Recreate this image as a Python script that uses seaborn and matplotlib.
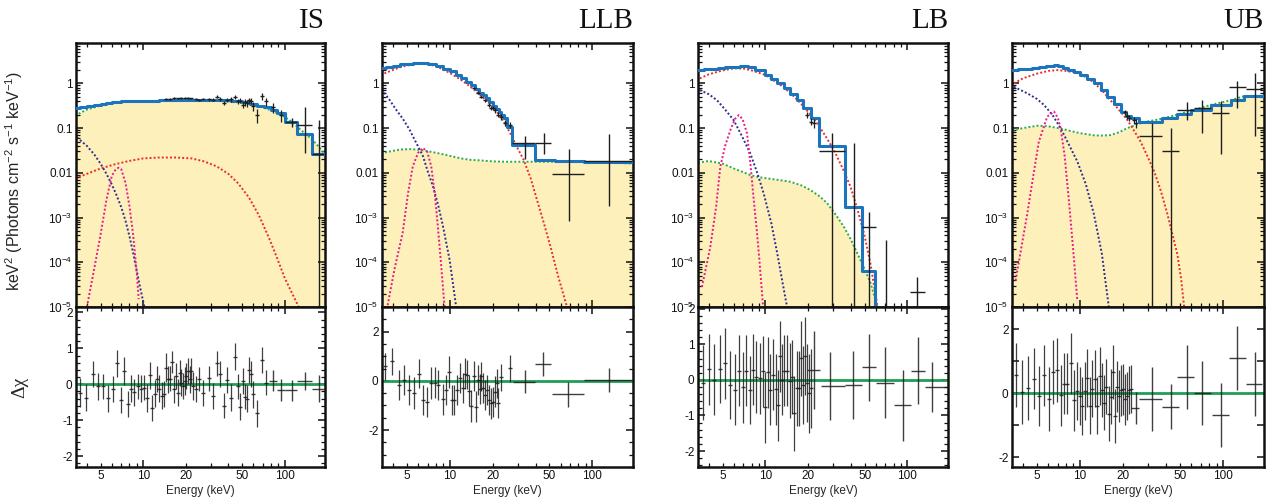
import matplotlib
matplotlib.use('Agg')
import matplotlib.pyplot as plt
import matplotlib.ticker as mticker
import numpy as np
import seaborn as sns

sns.set_theme(style='ticks')
plt.rcParams['font.family'] = ['Liberation Sans', 'DejaVu Sans']
plt.rcParams['mathtext.fontset'] = 'custom'
plt.rcParams['mathtext.rm'] = 'Liberation Sans'
plt.rcParams['mathtext.it'] = 'Liberation Sans:italic'
plt.rcParams['axes.unicode_minus'] = False

# ---------------- data ----------------
states = ['IS', 'LLB', 'LB', 'UB']

# --- IS ---
is_tot_e = [3.3, 3.6, 4.0, 4.5, 5.0, 5.5, 6.0, 7.0, 8.0, 10, 13, 17, 22, 28, 35, 42, 50, 57, 64, 72, 80, 88, 100, 123, 156, 195]
is_tot_f = [0.28, 0.29, 0.31, 0.33, 0.35, 0.37, 0.39, 0.40, 0.41, 0.41, 0.42, 0.43, 0.43, 0.42, 0.42, 0.40, 0.38, 0.35, 0.32, 0.29, 0.26, 0.22, 0.138, 0.075, 0.027, 0.027]
is_comp_e = [3.3, 3.6, 4.0, 5.0, 6.0, 7.0, 8.0, 10, 15, 20, 30, 40, 50, 60, 70, 80, 90, 100, 115, 126, 140, 156, 175, 195]
is_comp_f = [0.19, 0.22, 0.26, 0.32, 0.36, 0.38, 0.39, 0.40, 0.41, 0.41, 0.41, 0.40, 0.37, 0.33, 0.29, 0.25, 0.21, 0.18, 0.13, 0.10, 0.075, 0.056, 0.038, 0.025]
is_bb_e = [3.3, 4, 5, 6.3, 8, 10, 13, 17, 22, 27, 33, 40, 47, 56, 66, 77, 88, 100, 115, 128]
is_bb_f = [0.0075, 0.0095, 0.0125, 0.0155, 0.0185, 0.021, 0.022, 0.022, 0.021, 0.018, 0.014, 0.0095, 0.0058, 0.0028, 0.0011, 3.7e-4, 1.3e-4, 4.5e-5, 1.8e-5, 9e-6]
is_disk_e = [3.4, 4.0, 4.5, 5.0, 5.5, 6.0, 6.5, 7.0, 7.5, 8.0, 8.5, 9.0, 9.5, 10.2]
is_disk_f = [0.062, 0.040, 0.026, 0.016, 0.0095, 0.0055, 0.0031, 0.0017, 8.5e-4, 3.8e-4, 1.6e-4, 6.5e-5, 2.8e-5, 1e-5]
is_fe_e = [4.0, 4.5, 5.0, 5.5, 6.0, 6.4, 6.7, 7.0, 7.5, 8.0, 8.5, 9.0, 9.3]
is_fe_f = [1e-5, 7e-5, 4.2e-4, 0.0025, 0.0085, 0.012, 0.013, 0.012, 0.006, 0.0018, 4e-4, 6e-5, 1.5e-5]
is_dat_e = [14.4, 15.6, 16.6, 17.6, 18.6, 19.6, 20.7, 21.9, 23.7, 25.0, 26.7, 29.1, 31.0, 33.1, 34.9, 37.1,
            39.1, 41.8, 44.3, 46.5, 48.3, 50.4, 52.1, 53.8, 56.1, 57.7, 60.2, 64.3, 68.9, 73.6, 82.8, 93.7]
is_dat_f = [0.44, 0.45, 0.47, 0.46, 0.47, 0.48, 0.47, 0.46, 0.45, 0.43, 0.44, 0.44, 0.43, 0.50, 0.45, 0.37,
            0.42, 0.44, 0.49, 0.40, 0.41, 0.33, 0.38, 0.36, 0.42, 0.40, 0.31, 0.20, 0.52, 0.40, 0.29, 0.20]
is_dat_err = [0.02, 0.02, 0.02, 0.02, 0.02, 0.02, 0.02, 0.02, 0.025, 0.025, 0.025, 0.03, 0.03, 0.04, 0.04, 0.04,
              0.04, 0.05, 0.05, 0.05, 0.05, 0.05, 0.06, 0.06, 0.06, 0.06, 0.07, 0.07, 0.09, 0.08, 0.07, 0.06]
is_wide_e = [112, 139, 174]
is_wide_lo = [100, 123, 156]
is_wide_hi = [123, 156, 190]
is_wide_f = [0.137, 0.117, 0.027]
is_wide_flo = [0.105, 0.028, 1e-7]
is_wide_fhi = [0.17, 0.30, 0.15]
is_res_e = [3.55, 3.96, 4.40, 4.83, 5.24, 5.68, 6.09, 6.50, 6.93, 7.36, 7.76, 8.19, 8.65, 9.13, 9.63, 10.2,
            10.7, 11.2, 11.6, 12.1, 12.5, 12.9, 13.5, 14.0, 14.4, 15.0, 15.6, 16.1, 16.6, 17.1, 17.6, 18.1,
            18.6, 19.1, 19.6, 20.2, 20.7, 21.3, 21.9, 22.4, 23.7, 25.0, 26.7, 29.1, 31.0, 33.1, 34.9, 37.1,
            39.1, 41.8, 44.3, 46.5, 48.3, 50.4, 52.1, 53.8, 56.1, 57.7, 60.2, 64.3, 68.9, 73.6]
is_res_v = [-0.23, -0.37, 0.28, -0.06, -0.06, -0.39, -0.12, 0.58, -0.44, 0.37,
            -0.56, -0.12, -0.22, -0.06, -0.12, -0.09, -0.38, 0.25, -0.65, -0.26,
            0.14, -0.12, -0.32, -0.28, 0.46, 0.14, 0.16, 0.62, -0.14, 0.23,
            -0.23, 0.32, 0.05, -0.05, 0.09, 0.23, 0.37, 0.14, 0.37, -0.05,
            -0.14, 0.14, -0.23, 0.17, -0.32, 0.58, 0.28, -0.60, 0.12, -0.37,
            0.77, -0.06, -0.62, 0.09, -0.34, -0.40, 0.40, 0.28, -0.28, -0.81,
            0.68, 0.05]
is_res_err = [0.40, 0.38, 0.36, 0.38, 0.36, 0.38, 0.36, 0.38, 0.36, 0.38,
              0.36, 0.38, 0.37, 0.36, 0.38, 0.36, 0.38, 0.37, 0.36, 0.38,
              0.36, 0.37, 0.38, 0.36, 0.40, 0.38, 0.36, 0.30, 0.38, 0.36,
              0.38, 0.36, 0.38, 0.36, 0.38, 0.36, 0.35, 0.38, 0.36, 0.38,
              0.36, 0.34, 0.36, 0.35, 0.36, 0.35, 0.36, 0.35, 0.36, 0.38,
              0.37, 0.36, 0.38, 0.36, 0.36, 0.38, 0.36, 0.36, 0.38, 0.38,
              0.36, 0.35]
is_rwide_e = [82.8, 93.7, 112, 139, 174]
is_rwide_lo = [77, 88, 100, 123, 156]
is_rwide_hi = [88, 100, 123, 156, 190]
is_rwide_v = [0.10, -0.16, -0.17, 0.09, -0.12]
is_rwide_err = [0.30, 0.30, 0.30, 0.25, 0.38]

# --- LLB ---
llb_tot_e = [3.3, 3.6, 4.0, 4.5, 5.0, 5.5, 6.0, 6.5, 7.0, 8, 9, 10, 11, 12, 13, 14, 15, 16, 17, 18, 19, 20,
             21, 22, 23, 24, 25.1, 27.5, 39.8, 55, 87, 197]
llb_tot_f = [2.2, 2.35, 2.5, 2.65, 2.75, 2.85, 2.9, 2.85, 2.75, 2.45, 2.15, 1.85, 1.55, 1.3, 1.08, 0.9, 0.74,
             0.62, 0.54, 0.46, 0.39, 0.32, 0.27, 0.23, 0.2, 0.17, 0.105, 0.043, 0.019, 0.0185, 0.0178, 0.0178]
llb_comp_e = [3.3, 3.6, 4.0, 4.5, 5.2, 6.0, 7.2, 8.5, 10, 12, 14, 16.3, 20, 25, 28, 40, 60, 90, 130, 197]
llb_comp_f = [0.027, 0.029, 0.031, 0.033, 0.034, 0.033, 0.030, 0.027, 0.024, 0.021, 0.0195, 0.019, 0.018,
              0.0177, 0.0177, 0.0177, 0.0177, 0.0175, 0.017, 0.016]
llb_bb_e = [3.48, 4, 4.5, 5, 5.5, 6.1, 7, 8, 10, 12, 13.8, 15, 17.2, 20, 21.3, 24, 26.5, 30, 32.9, 37, 40.9,
            45, 50.8, 58, 66.5]
llb_bb_f = [1.67, 2.0, 2.3, 2.5, 2.65, 2.75, 2.7, 2.45, 1.72, 1.2, 0.87, 0.7, 0.48, 0.3, 0.24, 0.14, 0.078,
            0.035, 0.02, 0.0075, 0.0025, 9e-4, 2.3e-4, 4.5e-5, 1e-5]
llb_disk_e = [3.47, 3.8, 4.2, 4.7, 5.22, 5.8, 6.48, 7.0, 7.63, 8.3, 8.97, 10, 11.1]
llb_disk_f = [0.62, 0.42, 0.26, 0.16, 0.093, 0.048, 0.024, 0.011, 0.005, 0.0019, 6.4e-4, 1.1e-4, 1e-5]
llb_fe_e = [3.67, 4.1, 4.68, 5.1, 5.51, 6.0, 6.48, 6.95, 7.42, 7.85, 8.27, 8.7, 9.2]
llb_fe_f = [1.1e-5, 7e-5, 4.6e-4, 0.0035, 0.014, 0.028, 0.036, 0.03, 0.014, 0.0035, 6e-4, 9e-5, 1e-5]
llb_dat_e = [14.8, 15.8, 16.7, 17.7, 18.9, 19.6, 20.2, 20.9, 21.9, 22.8, 24.4, 26.5]
llb_dat_f = [0.8, 0.62, 0.5, 0.42, 0.33, 0.28, 0.28, 0.25, 0.2, 0.18, 0.13, 0.12]
llb_dat_err = [0.05, 0.04, 0.04, 0.035, 0.03, 0.03, 0.03, 0.03, 0.025, 0.025, 0.02, 0.02]
llb_wide_e = [33.8, 45.5, 68.5, 131]
llb_wide_lo = [27.5, 39.8, 52, 88]
llb_wide_hi = [39.8, 51, 88, 190]
llb_wide_f = [0.047, 0.047, 0.0095, 0.018]
llb_wide_flo = [0.02, 0.026, 8.5e-4, 0.0018]
llb_wide_fhi = [0.066, 0.076, 0.034, 0.072]
llb_res_e = [3.53, 3.94, 4.39, 4.81, 5.22, 5.66, 6.08, 6.48, 6.92, 7.34, 7.83, 8.27, 8.97, 9.47, 9.89, 10.3,
             10.8, 11.3, 11.8, 12.3, 12.8, 13.2, 13.7, 14.2, 14.8, 15.3, 15.8, 16.3, 16.7, 17.2, 17.7, 18.3,
             18.9, 19.6, 20.2, 20.9, 21.3, 21.9, 22.8, 26.5]
llb_res_v = [0.59, 0.79, -0.16, 0.04, -0.37, -0.48, 0.29, -0.78, -0.85, -0.07,
             -0.07, -0.16, -0.75, -0.37, 0.34, -0.78, -0.78, -0.37, 0.11, -0.30,
             0.29, 0.25, -0.40, -1.02, 0.20, -1.05, 0.04, -0.34, 0.18, -0.30,
             -0.57, -0.37, -0.78, -0.91, -0.85, -0.44, -0.10, -0.89, 0.15, 0.52]
llb_res_err = [0.55, 0.55, 0.60, 0.62, 0.60, 0.65, 0.60, 0.62, 0.60, 0.65,
               0.62, 0.60, 0.62, 0.60, 0.65, 0.60, 0.62, 0.60, 0.62, 0.60,
               0.62, 0.60, 0.62, 0.65, 0.60, 0.62, 0.60, 0.62, 0.60, 0.62,
               0.60, 0.62, 0.60, 0.62, 0.60, 0.62, 0.60, 0.60, 0.55, 0.55]
llb_rwide_e = [33.5, 45.1, 67.7, 131]
llb_rwide_lo = [28, 39.8, 52, 88]
llb_rwide_hi = [39.8, 51, 88, 190]
llb_rwide_v = [-0.03, 0.68, -0.55, 0.04]
llb_rwide_err = [0.48, 0.50, 0.50, 0.50]

# --- LB ---
lb_tot_e = [3.35, 3.7, 4.1, 4.6, 5.2, 5.8, 6.67, 7.5, 8.5, 10, 11, 12, 13.5, 15, 16.7, 18.5, 20.8, 23.8, 36.3, 47.6, 58.8]
lb_tot_f = [1.99, 2.05, 2.12, 2.2, 2.3, 2.38, 2.44, 2.3, 2.0, 1.54, 1.25, 1.0, 0.77, 0.58, 0.42, 0.28, 0.165,
            0.04, 0.00174, 6.4e-5, 1e-7]
lb_comp_e = [3.35, 3.98, 5, 5.98, 7, 7.83, 9, 10.3, 12.5, 15, 18, 20.8, 24, 27.2, 31, 35.7, 40, 44.3, 50, 55.1, 61.5]
lb_comp_f = [0.0167, 0.0184, 0.016, 0.0125, 0.0103, 0.0089, 0.008, 0.0075, 0.0069, 0.0063, 0.0052, 0.0041,
             0.003, 0.0021, 0.0012, 6.2e-4, 3.2e-4, 1.6e-4, 7e-5, 3.4e-5, 1e-5]
lb_bb_e = [3.45, 4, 5, 5.98, 7, 8, 10, 12, 13.5, 15.5, 17.7, 20, 23.2, 26.5, 30.4, 35, 39.8, 44.5, 49.5, 55, 61.5]
lb_bb_f = [1.29, 1.6, 1.95, 2.17, 2.15, 1.95, 1.54, 1.05, 0.81, 0.55, 0.36, 0.23, 0.127, 0.066, 0.032, 0.0125,
           0.0048, 0.0015, 4.4e-4, 9e-5, 1e-5]
lb_disk_e = [3.45, 4, 4.56, 5.2, 5.98, 6.8, 7.83, 8.8, 9.73, 11, 12.1, 13.2, 14.2]
lb_disk_f = [0.71, 0.57, 0.42, 0.26, 0.15, 0.068, 0.027, 0.0095, 0.0034, 7.5e-4, 1.6e-4, 3.5e-5, 1e-5]
lb_fe_e = [3.57, 4.09, 4.5, 4.81, 5.2, 5.66, 6.1, 6.48, 6.9, 7.42, 7.85, 8.27, 8.7, 9.07, 9.63]
lb_fe_f = [2.8e-5, 2.2e-4, 0.0018, 0.0137, 0.04, 0.09, 0.16, 0.195, 0.16, 0.076, 0.015, 0.0025, 5e-4, 1.1e-4, 1e-5]
lb_dat_e = [19.5, 20.8, 22.0]
lb_dat_f = [0.2, 0.14, 0.13]
lb_dat_err = [0.03, 0.025, 0.03]
lb_wide_e = [29.6, 42.0, 53.6, 70.3, 117]
lb_wide_lo = [23.8, 42.0, 48.1, 70.3, 104]
lb_wide_hi = [36.3, 42.0, 59.6, 70.3, 133]
lb_wide_f = [0.031, 1e-7, 6.2e-4, 1e-7, 2.2e-5]
lb_wide_flo = [1e-7, 1e-7, 1e-7, 1e-7, 1e-7]
lb_wide_fhi = [0.076, 0.047, 0.0013, 3.1e-4, 4.7e-5]
lb_res_e = [3.63, 3.98, 4.36, 4.81, 5.22, 5.66, 6.08, 6.48, 6.92, 7.31, 7.75, 8.18, 8.63, 9.12, 9.57, 10.0,
            10.4, 10.8, 11.3, 11.8, 12.2, 12.6, 13.1, 13.6, 14.2, 14.9, 15.4, 16.0, 16.6, 17.2, 17.9, 18.4,
            19.0, 19.7, 20.3, 21.0]
lb_res_v = [-0.08, 0.30, 0.00, 0.30, 0.47, -0.14, -0.28, 0.26, -0.21, 0.26,
            -0.28, 0.28, 0.08, 0.05, 0.24, -0.77, 0.21, -0.28, 0.14, -0.26,
            -0.71, 0.66, 0.00, 0.26, 0.26, -0.02, 0.08, -0.94, -0.24, -0.24,
            0.61, -0.14, 0.68, -0.09, -0.38, -0.24]
lb_res_err = [1.05, 1.0, 1.0, 0.95, 1.0, 0.95, 1.0, 1.0, 1.0, 1.0,
              0.95, 1.0, 1.0, 1.0, 1.0, 1.0, 1.0, 1.0, 1.0, 1.0,
              1.0, 1.0, 1.0, 1.0, 1.0, 1.05, 1.05, 1.05, 1.05, 1.05,
              1.05, 1.1, 1.1, 1.1, 1.1, 1.1]
lb_rwide_e = [21.9, 28.7, 41.5, 53.6, 69.6, 93, 118, 150]
lb_rwide_lo = [19.7, 24.5, 36.3, 48.1, 59.8, 80.5, 106, 133]
lb_rwide_hi = [24.4, 36.3, 47.6, 59.6, 80.5, 106, 133, 190]
lb_rwide_v = [0.28, -0.17, -0.15, 0.35, -0.08, -0.72, 0.26, -0.21]
lb_rwide_err = [1.1, 0.95, 0.95, 0.95, 1.0, 1.0, 0.95, 0.7]

# --- UB ---
ub_tot_e = [3.37, 3.7, 4.1, 4.6, 5.2, 5.8, 6.58, 7.0, 7.6, 8.3, 9.1, 10, 11.2, 12.5, 14, 15.5, 17.2, 19.2, 21,
            22.6, 25.9, 37.6, 47.9, 59.4, 82, 113, 140, 195]
ub_tot_f = [1.98, 2.05, 2.15, 2.25, 2.35, 2.45, 2.55, 2.4, 2.2, 2.0, 1.78, 1.55, 1.25, 1.0, 0.73, 0.5, 0.34,
            0.235, 0.19, 0.167, 0.14, 0.167, 0.208, 0.255, 0.33, 0.43, 0.53, 0.53]
ub_comp_e = [3.37, 4, 5.03, 6, 7.32, 8.5, 10, 12.5, 14.5, 16.4, 19, 21.4, 25, 28, 36.6, 47.9, 62, 82, 113, 140, 195]
ub_comp_f = [0.09, 0.1, 0.113, 0.11, 0.098, 0.087, 0.077, 0.069, 0.068, 0.07, 0.082, 0.1, 0.12, 0.136, 0.16,
             0.2, 0.255, 0.33, 0.42, 0.52, 0.53]
ub_bb_e = [3.45, 4, 5, 6, 6.94, 8, 10, 12, 14, 16, 18.3, 21.4, 24, 26.5, 29.5, 32.9, 36.5, 40.8, 44, 47.9, 51, 53.4]
ub_bb_f = [1.0, 1.3, 1.65, 1.9, 1.98, 1.9, 1.67, 1.15, 0.75, 0.45, 0.28, 0.153, 0.085, 0.05, 0.024, 0.011,
           0.0042, 0.0012, 4.5e-4, 1.5e-4, 4e-5, 1e-5]
ub_disk_e = [3.45, 4.28, 5.0, 5.6, 6.4, 7.32, 8.3, 9.58, 11, 12.5, 14.2, 15.9]
ub_disk_f = [0.84, 0.6, 0.45, 0.33, 0.2, 0.1, 0.045, 0.018, 0.0055, 0.0012, 1.6e-4, 1e-5]
ub_fe_e = [3.55, 4.28, 4.7, 5.16, 5.9, 6.58, 7.0, 7.32, 7.8, 8.38, 8.9, 9.58]
ub_fe_f = [3.9e-5, 0.0012, 0.008, 0.05, 0.18, 0.235, 0.17, 0.1, 0.025, 0.0023, 2.5e-4, 1.4e-5]
ub_dat_e = [20.5, 21.4, 22.0, 23.8, 24.6]
ub_dat_f = [0.23, 0.19, 0.17, 0.15, 0.13]
ub_dat_err = [0.03, 0.03, 0.025, 0.025, 0.03]
ub_wide_e = [31.7, 43.5, 55.7, 71.6, 96.4, 126, 166]
ub_wide_lo = [25.9, 37.6, 47.9, 63, 84, 110, 144]
ub_wide_hi = [37.6, 49.2, 63, 82, 110, 144, 188]
ub_wide_f = [0.065, 0.03, 0.255, 0.28, 0.22, 0.84, 0.75]
ub_wide_flo = [1e-7, 1e-7, 0.15, 0.077, 0.026, 0.28, 0.065]
ub_wide_fhi = [0.13, 0.1, 0.38, 0.43, 0.405, 1.13, 1.73]
ub_res_e = [3.55, 3.95, 4.35, 4.77, 5.2, 5.6, 6.07, 6.51, 6.95, 7.33, 7.73, 8.15, 8.6, 9.08, 9.48, 9.95,
            10.4, 10.8, 11.2, 11.7, 12.2, 12.7, 13.2, 13.7, 14.3, 14.7, 15.3, 15.9, 16.4, 16.9, 17.5, 18.0,
            18.6, 19.2, 19.9, 20.5, 21.2, 22.0, 22.6]
ub_res_v = [0.59, 0.04, 0.18, 0.46, -0.08, 0.56, -0.17, 0.67, 0.73, -0.06,
            0.30, 0.30, 0.94, -0.21, 0.07, -0.08, -0.40, 0.07, 0.49, -0.38,
            0.15, 0.46, -0.38, 0.54, 0.10, -0.29, 0.21, -0.63, -0.10, 0.67,
            -0.71, 0.21, -0.08, 0.10, 0.13, -0.19, -0.08, 0.10, 0.13]
ub_res_err = [1.0, 1.0, 1.0, 0.95, 0.95, 0.95, 1.0, 1.0, 1.0, 0.95,
              0.95, 0.95, 0.95, 0.95, 0.9, 0.9, 0.9, 0.9, 0.9, 0.9,
              0.9, 0.9, 0.9, 0.9, 0.85, 0.85, 0.85, 0.85, 0.85, 0.85,
              0.85, 0.8, 0.8, 0.8, 0.8, 0.8, 0.75, 0.75, 0.75]
ub_rwide_e = [24.5, 31.7, 43.5, 55.7, 71.6, 96.4, 126, 166]
ub_rwide_lo = [22.6, 25.9, 37.6, 47.9, 63, 84, 110, 144]
ub_rwide_hi = [25.9, 37.6, 49.2, 63, 82, 110, 144, 188]
ub_rwide_v = [-0.45, -0.19, -0.42, 0.5, 0.0, -0.66, 1.11, 0.28]
ub_rwide_err = [0.5, 1.0, 0.7, 1.0, 1.0, 1.0, 1.0, 1.0]

# residual axis ranges and tick steps per state
res_ylims = [(-2.3, 2.15), (-3.5, 3.0), (-2.45, 2.05), (-2.3, 2.7)]
res_major = [1, 2, 1, 1]
res_minor = [0.2, 0.5, 0.2, None]

# ---------------- colours ----------------
c_tot = '#1c74bd'
c_comp = '#2bab45'
c_bb = '#ec2b2b'
c_disk = '#2d2f8f'
c_fe = '#e8198b'
c_fill = '#fdf0bb'
c_dat = '#1e1e1e'
c_zero = '#1f9e55'
dot = (0, (1, 1.1))

panels = []
for pre in ['is', 'llb', 'lb', 'ub']:
    g = globals()
    panels.append({k: np.array(g[pre + '_' + k]) for k in
                   ['tot_e', 'tot_f', 'comp_e', 'comp_f', 'bb_e', 'bb_f', 'disk_e', 'disk_f', 'fe_e', 'fe_f',
                    'dat_e', 'dat_f', 'dat_err', 'wide_e', 'wide_lo', 'wide_hi', 'wide_f', 'wide_flo',
                    'wide_fhi', 'res_e', 'res_v', 'res_err', 'rwide_e', 'rwide_lo', 'rwide_hi', 'rwide_v',
                    'rwide_err']})

fig = plt.figure(figsize=(12.8, 5.04), dpi=100)
lefts = [76, 382, 698, 1012]
widths = [249, 251, 250, 252]
W, H = 1280, 504

yfmt = {1: '1', 0.1: '0.1', 0.01: '0.01', 1e-3: '$10^{-3}$', 1e-4: '$10^{-4}$', 1e-5: '$10^{-5}$'}


def top_fmt(v, pos):
    for k, s in yfmt.items():
        if abs(v - k) / k < 1e-6:
            return s
    return ''


def minor_x_fmt(v, pos):
    for k in (5, 20, 50):
        if abs(v - k) < 1e-6:
            return str(k)
    return ''


def style_axis(ax):
    ax.tick_params(which='both', direction='in', top=True, right=True, colors='#111111',
                   labelsize=8.5, pad=2.5)
    ax.tick_params(which='major', length=5, width=1.1)
    ax.tick_params(which='minor', length=2.8, width=0.9)
    for s in ax.spines.values():
        s.set_linewidth(1.8)
        s.set_color('#111111')


for i, d in enumerate(panels):
    x0 = lefts[i] / W
    w = widths[i] / W
    ax = fig.add_axes([x0, 1 - 307 / H, w, 264 / H])
    axr = fig.add_axes([x0, 1 - 467 / H, w, 160 / H], sharex=ax)
    ax.set_xscale('log')
    ax.set_yscale('log')

    # continuum fill under the Comptonised component
    ax.fill_between(d['comp_e'], d['comp_f'], 1e-8, color=c_fill, lw=0, zorder=0)

    sns.lineplot(x=d['comp_e'], y=d['comp_f'], ax=ax, color=c_comp, lw=1.4, linestyle=dot,
                 estimator=None, sort=False, zorder=2)
    sns.lineplot(x=d['bb_e'], y=d['bb_f'], ax=ax, color=c_bb, lw=1.4, linestyle=dot,
                 estimator=None, sort=False, zorder=2)
    sns.lineplot(x=d['disk_e'], y=d['disk_f'], ax=ax, color=c_disk, lw=1.4, linestyle=dot,
                 estimator=None, sort=False, zorder=2)
    sns.lineplot(x=d['fe_e'], y=d['fe_f'], ax=ax, color=c_fe, lw=1.4, linestyle=dot,
                 estimator=None, sort=False, zorder=2)
    sns.lineplot(x=d['tot_e'], y=d['tot_f'], ax=ax, color=c_tot, lw=2.2, drawstyle='steps-post',
                 estimator=None, sort=False, zorder=3)

    ax.errorbar(d['dat_e'], d['dat_f'], yerr=d['dat_err'], fmt='_', ms=3.5, mew=1.0, color=c_dat,
                elinewidth=0.9, zorder=4)
    ax.errorbar(d['wide_e'], d['wide_f'],
                xerr=[d['wide_e'] - d['wide_lo'], d['wide_hi'] - d['wide_e']],
                yerr=[d['wide_f'] - d['wide_flo'], d['wide_fhi'] - d['wide_f']],
                fmt='none', ecolor=c_dat, elinewidth=1.0, zorder=4)

    ax.set_xlim(3.35, 193)
    ax.set_ylim(1e-5, 8)
    ax.yaxis.set_major_locator(mticker.LogLocator(base=10, numticks=12))
    ax.yaxis.set_minor_locator(mticker.LogLocator(base=10, subs=np.arange(2, 10), numticks=12))
    ax.yaxis.set_major_formatter(mticker.FuncFormatter(top_fmt))
    ax.yaxis.set_minor_formatter(mticker.NullFormatter())
    ax.set_xlabel('')
    ax.set_ylabel('')
    style_axis(ax)
    ax.tick_params(which='both', labelbottom=False)

    ax.text(1.0, 1.057, states[i], transform=ax.transAxes, ha='right', va='baseline',
            fontsize=21, family='Liberation Serif', color='#111111')

    # residuals
    axr.axhline(0, color=c_zero, lw=2.0, zorder=2)
    axr.errorbar(d['res_e'], d['res_v'], yerr=d['res_err'], fmt='_', ms=3.5, mew=1.0, color=c_dat,
                 elinewidth=0.9, zorder=3, alpha=0.85)
    axr.errorbar(d['rwide_e'], d['rwide_v'],
                 xerr=[d['rwide_e'] - d['rwide_lo'], d['rwide_hi'] - d['rwide_e']],
                 yerr=d['rwide_err'], fmt='none', ecolor=c_dat, elinewidth=1.0, zorder=3, alpha=0.85)
    axr.set_ylim(*res_ylims[i])
    axr.yaxis.set_major_locator(mticker.MultipleLocator(res_major[i]))
    if res_minor[i]:
        axr.yaxis.set_minor_locator(mticker.MultipleLocator(res_minor[i]))
    else:
        axr.yaxis.set_minor_locator(mticker.NullLocator())
    if i == 3:
        axr.yaxis.set_major_formatter(mticker.FuncFormatter(
            lambda v, p: '%d' % round(v) if round(v) % 2 == 0 else ''))
    else:
        axr.yaxis.set_major_formatter(mticker.FuncFormatter(lambda v, p: '%d' % round(v)))

    axr.xaxis.set_major_locator(mticker.FixedLocator([10, 100]))
    axr.xaxis.set_minor_locator(mticker.LogLocator(base=10, subs=np.arange(2, 10), numticks=12))
    axr.xaxis.set_major_formatter(mticker.FuncFormatter(lambda v, p: '%d' % round(v)))
    axr.xaxis.set_minor_formatter(mticker.FuncFormatter(minor_x_fmt))
    axr.set_xlim(3.35, 193)
    style_axis(axr)
    axr.set_xlabel('Energy (keV)', fontsize=8.5, labelpad=1.5)
    axr.set_ylabel('')

    if i == 0:
        ax.set_ylabel('keV$^2$ (Photons cm$^{-2}$ s$^{-1}$ keV$^{-1}$)', fontsize=11.5)
        ax.yaxis.set_label_coords(-0.205, 0.475)
        axr.set_ylabel('Δχ', fontsize=14, family='Liberation Serif')
        axr.yaxis.set_label_coords(-0.19, 0.5)

fig.savefig('out.png', dpi=100)
